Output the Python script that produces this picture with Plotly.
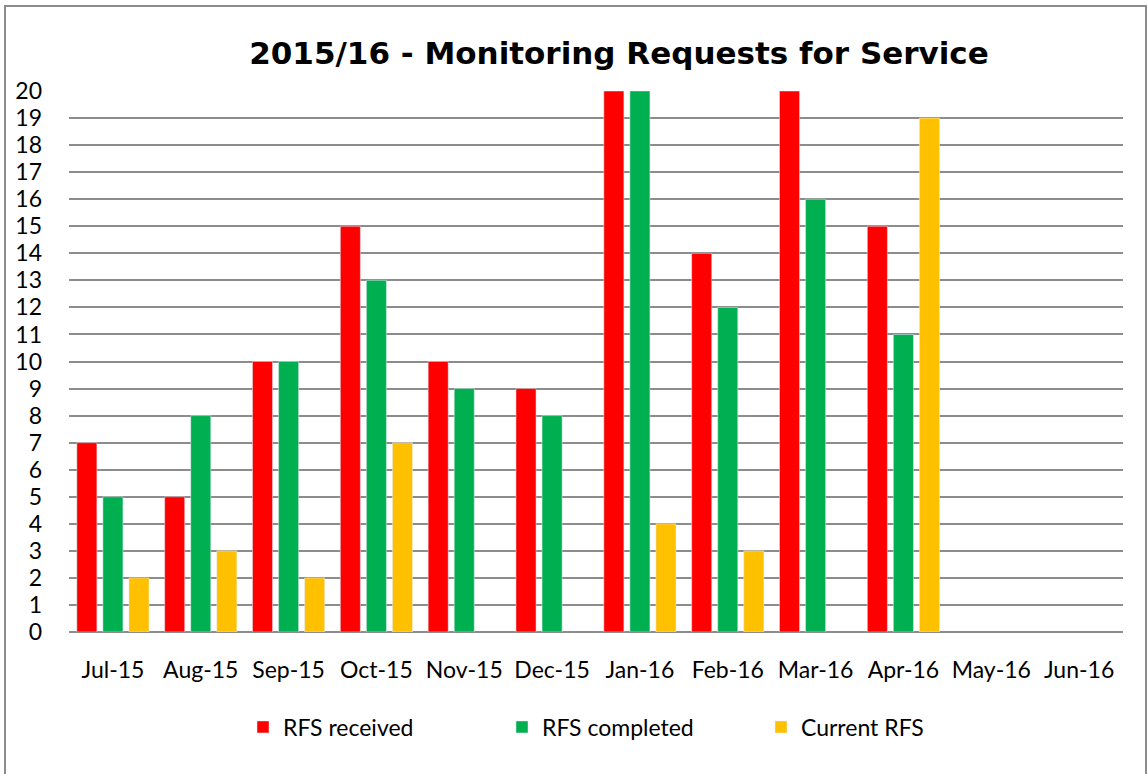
import plotly.graph_objects as go

months = ["Jul-15", "Aug-15", "Sep-15", "Oct-15", "Nov-15", "Dec-15",
          "Jan-16", "Feb-16", "Mar-16", "Apr-16", "May-16", "Jun-16"]
rfs_received = [7, 5, 10, 15, 10, 9, 20, 14, 20, 15, None, None]
rfs_completed = [5, 8, 10, 13, 9, 8, 20, 12, 16, 11, None, None]
current_rfs = [2, 3, 2, 7, None, None, 4, 3, None, 19, None, None]
y_ticks = list(range(0, 21))

W, H = 1148, 774
# reference pixel positions of the plot area
PL, PR, PT, PB = 69, 1123, 91, 632
L, R, T, B = PL, W - PR, PT, H - PB
pw, ph = W - L - R, H - T - B

fig = go.Figure()
fig.add_bar(x=months, y=rfs_received, name="RFS received", marker_color="#FF0000")
fig.add_bar(x=months, y=rfs_completed, name="RFS completed", marker_color="#00B050")
fig.add_bar(x=months, y=current_rfs, name="Current RFS", marker_color="#FFC000")

font_family = "Lato, Open Sans, sans-serif"

def px2paper_x(px):
    return (px - L) / pw

def px2paper_y(py):
    return (H - B - py) / ph

fig.update_layout(
    width=W, height=H,
    margin=dict(l=L, r=R, t=T, b=B),
    paper_bgcolor="white", plot_bgcolor="white",
    barmode="group", bargap=0.11, bargroupgap=0.23,
    title=dict(text="<b>2015/16 - Monitoring Requests for Service</b>",
               x=px2paper_x(619), xanchor="center", xref="paper",
               y=1 - 53 / H, yanchor="middle",
               font=dict(family="DejaVu Sans, sans-serif", size=31, color="black")),
    font=dict(family=font_family, size=23, color="black"),
    legend=dict(orientation="h", x=px2paper_x(243), xanchor="left",
                y=px2paper_y(727), yanchor="middle",
                font=dict(family=font_family, size=23),
                itemwidth=30, tracegroupgap=0,
                entrywidth=214, entrywidthmode="pixels"),
    xaxis=dict(showgrid=False, showline=False, ticks="",
               ticklabelstandoff=22,
               tickfont=dict(family=font_family, size=23)),
    yaxis=dict(range=[0, 20], tickvals=y_ticks, showgrid=True,
               gridcolor="#8C8C8C", gridwidth=2,
               zeroline=True, zerolinecolor="#8C8C8C", zerolinewidth=2,
               showline=False, ticks="", ticklabelstandoff=26,
               tickfont=dict(family=font_family, size=23)),
    shapes=[dict(type="rect", xref="paper", yref="paper",
                 x0=px2paper_x(5), x1=px2paper_x(1146),
                 y0=px2paper_y(790), y1=px2paper_y(6),
                 line=dict(color="#8C8C8C", width=2), layer="below")],
)

fig.write_html(
    "out.html",
    config={"displayModeBar": False},
    post_script="document.body.style.margin='0';document.body.style.overflow='hidden';",
)
